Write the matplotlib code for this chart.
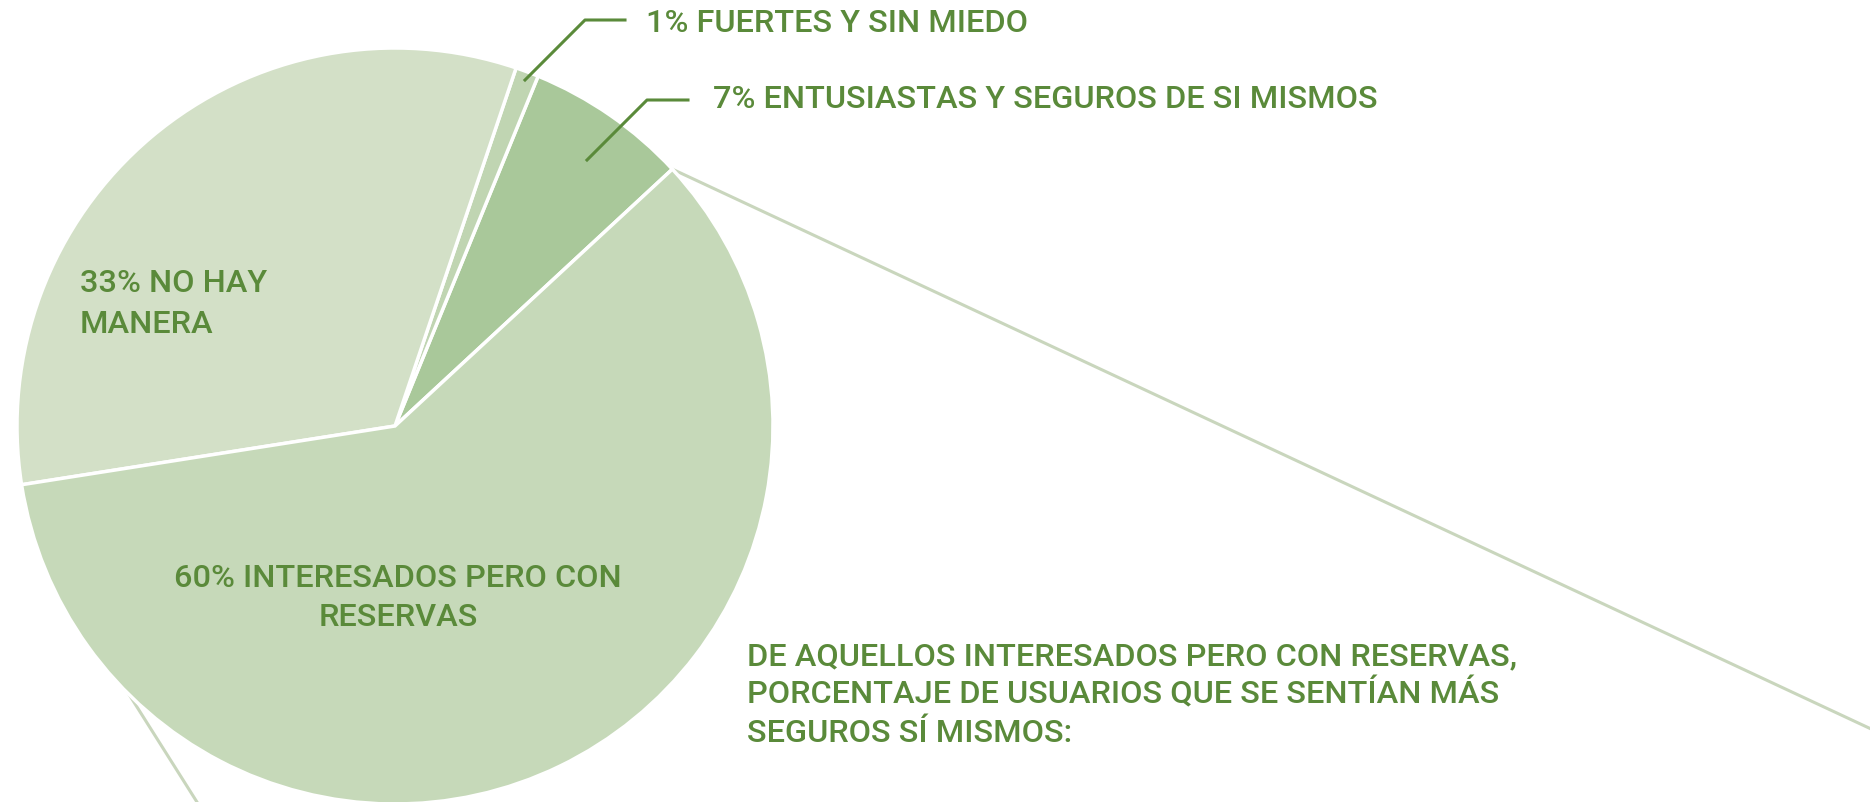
import numpy as np
import matplotlib
matplotlib.use("Agg")
import matplotlib.pyplot as plt

# slices, counterclockwise from the 7%/60% boundary
shares = [7, 1, 33, 60]
slice_colors = ["#a9c89a", "#c0d5b2", "#d3e0c7", "#c6d9b9"]

top_labels = ["1% FUERTES Y SIN MIEDO", "7% ENTUSIASTAS Y SEGUROS DE SI MISMOS"]
no_hay_lines = ["33% NO HAY", "MANERA"]
interesados_lines = ["60% INTERESADOS PERO CON", "RESERVAS"]
note_lines = ["DE AQUELLOS INTERESADOS PERO CON RESERVAS,",
              "PORCENTAJE DE USUARIOS QUE SE SENTÍAN MÁS",
              "SEGUROS SÍ MISMOS:"]

W, H = 1870, 802
GREEN = "#5a8a3a"
ZOOM = "#c9d6bd"
FONT = dict(family="Roboto", weight="medium", color=GREEN, fontsize=23.4)


def py(y):
    # pixel row (from top) -> data y
    return H - y


fig = plt.figure(figsize=(W / 100, H / 100), dpi=100)
ax = fig.add_axes([0, 0, 1, 1])

cx, cy, r, start = 395, py(426), 378, 42.8
ax.pie(shares, colors=slice_colors, startangle=start, center=(cx, cy), radius=r,
       wedgeprops=dict(edgecolor="white", linewidth=2.5))

# zoom connector lines to the (cropped) second chart
t = np.radians(start)
x0, y0 = cx + r * np.cos(t), cy + r * np.sin(t)
x1 = W + 20
ax.plot([x0, x1], [y0, y0 - 0.467 * (x1 - x0)], color=ZOOM, lw=2.2, zorder=0.5,
        solid_capstyle="butt")
ax.plot([60, 214], [py(585), py(829)], color=ZOOM, lw=2.2, zorder=0.5)

# leader lines for the thin slices
ax.plot([525, 585, 625], [py(80), py(20), py(20)], color=GREEN, lw=2.2, zorder=3)
ax.plot([587, 647, 688], [py(160), py(100), py(100)], color=GREEN, lw=2.2, zorder=3)
ax.text(646, py(32), top_labels[0], va="baseline", ha="left", **FONT)
ax.text(713, py(108), top_labels[1], va="baseline", ha="left", **FONT)

for s, b in zip(no_hay_lines, [292, 333]):
    ax.text(80, py(b), s, va="baseline", ha="left", **FONT)
for s, b in zip(interesados_lines, [587, 626]):
    ax.text(398, py(b), s, va="baseline", ha="center", **FONT)
for s, b in zip(note_lines, [665, 703, 742]):
    ax.text(747, py(b), s, va="baseline", ha="left", **FONT)

ax.set_xlim(0, W)
ax.set_ylim(0, H)
ax.set_aspect("equal")
ax.axis("off")
fig.savefig("out.png", dpi=100, facecolor="white")
